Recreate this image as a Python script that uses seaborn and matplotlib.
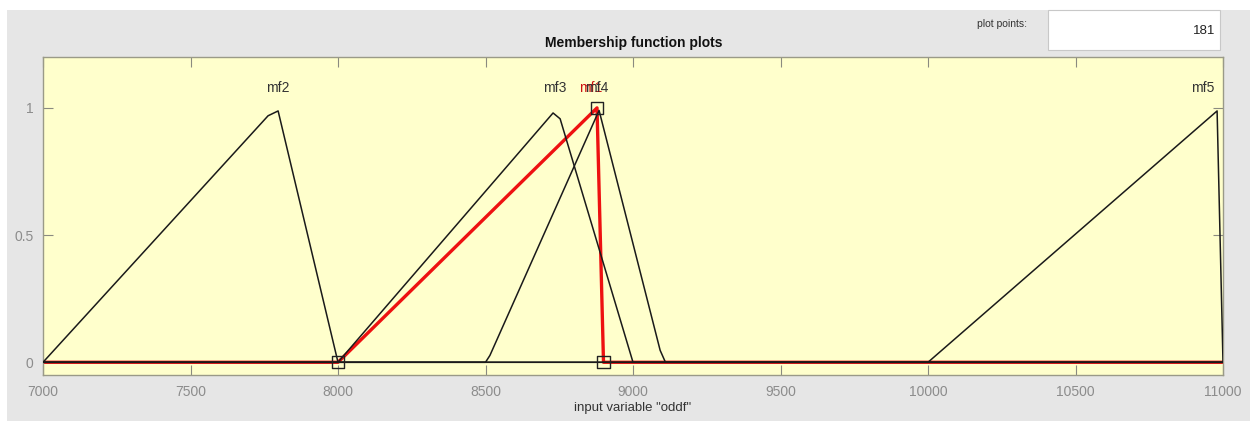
import matplotlib
matplotlib.use("Agg")
import matplotlib.pyplot as plt
from matplotlib.patches import Rectangle
import pandas as pd
import seaborn as sns

sns.set_theme(style="white")
plt.rcParams["font.family"] = ["Liberation Sans", "DejaVu Sans"]

# Membership function vertices (input variable "oddf")
mf1_x = [7000, 8000, 8878, 8900, 11000]
mf1_y = [0, 0, 1.0, 0, 0]
mf2_x = [7000, 7763, 7797, 8000, 11000]
mf2_y = [0, 0.969, 0.988, 0, 0]
mf3_x = [7000, 8000, 8729, 8753, 9000, 11000]
mf3_y = [0, 0, 0.98, 0.957, 0, 0]
mf4_x = [7000, 8500, 8515, 8885, 9092, 9110, 11000]
mf4_y = [0, 0, 0.027, 0.99, 0.047, 0, 0]
mf5_x = [7000, 10000, 10980, 11000]
mf5_y = [0, 0, 0.988, 0]

# Label positions above each function
label_names = ["mf2", "mf3", "mf1", "mf4", "mf5"]
label_x = [7797, 8736, 8855, 8878, 10932]
label_colors = ["#333333", "#333333", "#cc1010", "#333333", "#333333"]

# Vertex markers of the selected function (mf1)
sel_x = [8000, 8878, 8900]
sel_y = [0, 1.0, 0]

x_ticks = [7000, 7500, 8000, 8500, 9000, 9500, 10000, 10500, 11000]
y_ticks = [0, 0.5, 1]
y_tick_labels = ["0", "0.5", "1"]
plot_points = "181"

W, H = 1250, 421
fig = plt.figure(figsize=(W / 100, H / 100), dpi=100, facecolor="white")

# grey panel of the editor window
fig.patches.append(Rectangle((7 / W, 0), 1, (H - 10) / H, transform=fig.transFigure,
                             facecolor="#e6e6e6", edgecolor="none", zorder=-10))
# plot points box
fig.patches.append(Rectangle((1048 / W, 1 - 50 / H), 172 / W, 40 / H, transform=fig.transFigure,
                             facecolor="white", edgecolor="#c8c8c8", lw=0.8, zorder=-5))
fig.text(1027 / W, 1 - 24 / H, "plot points:", ha="right", va="center", fontsize=7.5, color="#333333")
fig.text(1215 / W, 1 - 31 / H, plot_points, ha="right", va="center", fontsize=9.5, color="#222222")
fig.text(634 / W, 1 - 43 / H, "Membership function plots", ha="center", va="center",
         fontsize=10, fontweight="bold", color="#111111")

ax = fig.add_axes([43 / W, 1 - 375 / H, 1180 / W, 318 / H])
ax.set_facecolor("#ffffcc")

rows = []
for name, xs, ys in [("mf2", mf2_x, mf2_y), ("mf3", mf3_x, mf3_y),
                     ("mf4", mf4_x, mf4_y), ("mf5", mf5_x, mf5_y)]:
    for i, (xv, yv) in enumerate(zip(xs, ys)):
        rows.append({"mf": name, "order": i, "x": xv, "y": yv})
black_df = pd.DataFrame(rows)
red_df = pd.DataFrame({"mf": "mf1", "x": mf1_x, "y": mf1_y})

sns.lineplot(data=red_df, x="x", y="y", sort=False, estimator=None, color="#ee1111",
             lw=2.4, ax=ax, zorder=2)
sns.lineplot(data=black_df, x="x", y="y", units="mf", sort=False, estimator=None,
             color="#1a1a1a", lw=1.1, ax=ax, zorder=3)
sns.scatterplot(x=sel_x, y=sel_y, marker="s", s=75, facecolor="none", edgecolor="#222222",
                linewidth=1.0, ax=ax, zorder=4)

for name, xv, c in zip(label_names, label_x, label_colors):
    ax.text(xv, 1.08, name, ha="center", va="center", fontsize=10, color=c)

ax.set_xlim(7000, 11000)
ax.set_ylim(-0.05, 1.2)
ax.set_xticks(x_ticks)
ax.set_xticklabels([str(t) for t in x_ticks])
ax.set_yticks(y_ticks)
ax.set_yticklabels(y_tick_labels)
ax.tick_params(axis="both", direction="in", length=7, width=0.8, color="#8a8a80",
               labelcolor="#8c8c8c", labelsize=10, pad=7,
               top=True, right=True, bottom=True, left=True)
for s in ax.spines.values():
    s.set_color("#9a9a88")
    s.set_linewidth(1.0)
ax.set_xlabel('input variable "oddf"', fontsize=9.5, color="#333333", labelpad=2)
ax.set_ylabel("")

fig.savefig("out.png", dpi=100, facecolor=fig.get_facecolor())
